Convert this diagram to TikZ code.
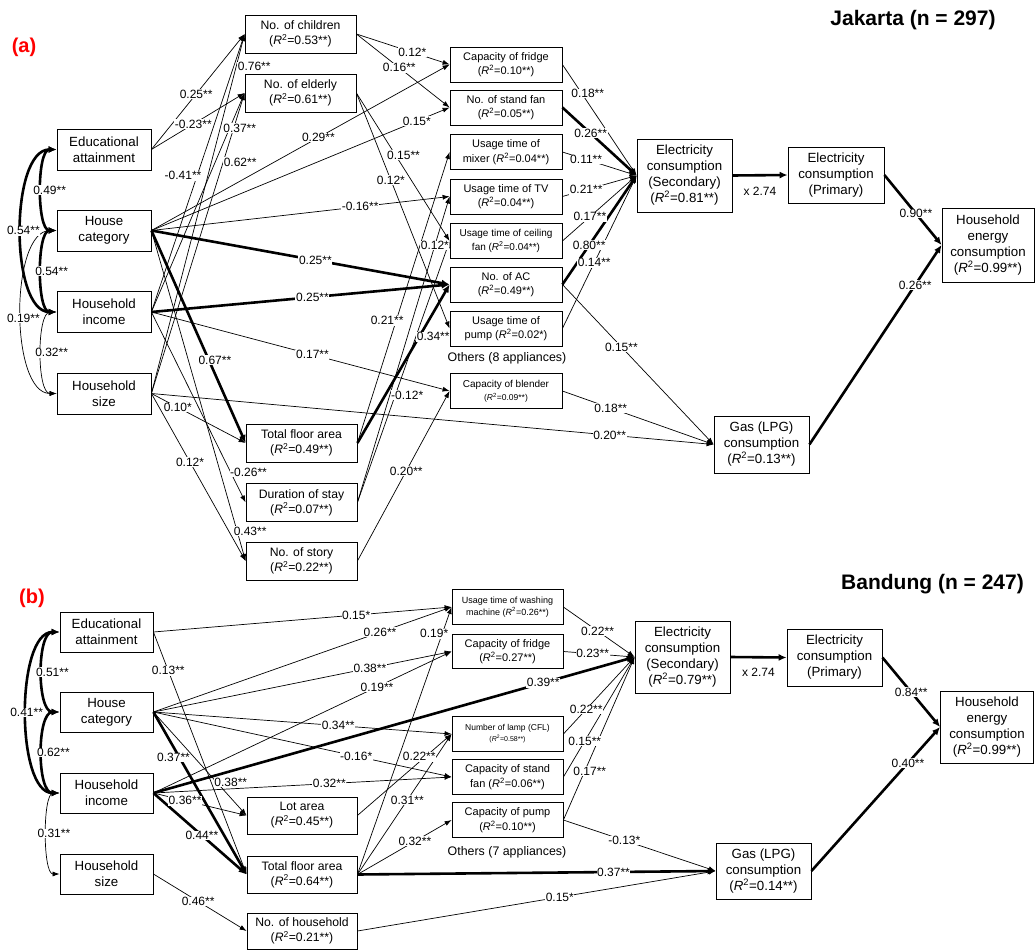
\documentclass[tikz,border=0pt]{standalone}
\usepackage{fontspec}
\setmainfont{Liberation Sans}
\usetikzlibrary{arrows.meta}
\pgfdeclarelayer{lines}
\pgfsetlayers{lines,main}
\newcommand{\Rsq}{\textit{R}\textsuperscript{2}}
% #1 style, #2 source, #3 target, #4 label options, #5 label text
\newcommand{\myedge}[5][tn]{%
  \begin{pgfonlayer}{lines}\draw[#1] (#2.east) -- (#3.west);\end{pgfonlayer}%
  \path (#2.east) -- node[lbl,#4]{#5} (#3.west);}
% #1 style, #2 a, #3 b, #4 distance, #5 label options, #6 text
\newcommand{\mycorr}[6][ctn]{%
  \begin{pgfonlayer}{lines}\draw[#1] (#2.west) to[out=180,in=180,distance=#4] (#3.west);\end{pgfonlayer}%
  \path (#2.west) to[out=180,in=180,distance=#4] node[lbl,pos=.5,#5]{#6} (#3.west);}
\begin{document}
\begin{tikzpicture}[x=1pt,y=-1pt,
  tn/.style={line width=0.7pt,-{Latex[length=7pt,width=5pt]}},
  tk/.style={line width=2.6pt,-{Latex[length=8pt,width=7pt]}},
  ctn/.style={line width=0.7pt,{Latex[length=7pt,width=5pt]}-{Latex[length=7pt,width=5pt]}},
  ctk/.style={line width=2.6pt,{Latex[length=8pt,width=7pt]}-{Latex[length=8pt,width=7pt]}},
  lbl/.style={fill=white,inner sep=0.6pt,font=\fontsize{12}{13}\selectfont},
  bx/.style={draw,line width=0.8pt,align=center,inner sep=1pt},
  lbox/.style={bx,minimum width=94pt,minimum height=41pt,font=\fontsize{13.3}{15.7}\selectfont},
  cbox/.style={bx,minimum width=111pt,minimum height=38pt,font=\fontsize{12.2}{15}\selectfont},
  mbox/.style={bx,minimum width=112pt,minimum height=35pt,font=\fontsize{11}{14.5}\selectfont},
  rbox/.style={bx,minimum width=95pt,font=\fontsize{13.3}{16}\selectfont},
  oth/.style={font=\fontsize{12.4}{14}\selectfont},
  ttl/.style={font=\bfseries\fontsize{21}{24}\selectfont},
  pan/.style={text=red,font=\bfseries\fontsize{20}{24}\selectfont}
]
\useasboundingbox (0,0) rectangle (1036,950);

%%%%%%%%%%%%%%%% (a) Jakarta
\node[pan] (pA) at (24,47) {(a)};
\node[ttl] (tA) at (913,20) {Jakarta (n = 297)};

\node[lbox] (aEA) at (104,149.5) {Educational\\attainment};
\node[lbox] (aHC) at (104,230.5) {House\\category};
\node[lbox] (aHI) at (104,312) {Household\\income};
\node[lbox] (aHS) at (104,393.5) {Household\\size};

\node[cbox] (aCh) at (300.5,34) {No. of children\\(\Rsq=0.53**)};
\node[cbox] (aEl) at (300.5,93) {No. of elderly\\(\Rsq=0.61**)};
\node[cbox] (aTFA) at (301.5,443) {Total floor area\\(\Rsq=0.49**)};
\node[cbox] (aDur) at (301.5,502.5) {Duration of stay\\(\Rsq=0.07**)};
\node[cbox] (aSt) at (301.5,561) {No. of story\\(\Rsq=0.22**)};

\node[mbox] (aFr) at (506,64.5) {Capacity of fridge\\(\Rsq=0.10**)};
\node[mbox] (aSF) at (506,107.5) {No. of stand fan\\(\Rsq=0.05**)};
\node[mbox] (aMx) at (506,152) {Usage time of\\mixer (\Rsq=0.04**)};
\node[mbox] (aTV) at (506,196.5) {Usage time of TV\\(\Rsq=0.04**)};
\node[mbox,font=\fontsize{10}{13.5}\selectfont] (aCF) at (506,241) {Usage time of ceiling\\fan (\Rsq=0.04**)};
\node[mbox] (aAC) at (506,284.5) {No. of AC\\(\Rsq=0.49**)};
\node[mbox] (aPu) at (506,328.5) {Usage time of\\pump (\Rsq=0.02*)};
\node[oth] (aOth) at (507,358) {Others (8 appliances)};
\node[mbox,font=\fontsize{10}{13}\selectfont] (aBl) at (506,391) {Capacity of blender\\{\fontsize{8.5}{10}\selectfont(\Rsq=0.09**)}};

\node[rbox,minimum height=73pt] (aES) at (684.5,175.5) {Electricity\\consumption\\(Secondary)\\(\Rsq=0.81**)};
\node[rbox,minimum width=96pt,minimum height=56pt] (aEP) at (836,175) {Electricity\\consumption\\(Primary)};
\node[rbox,minimum width=92pt,minimum height=74pt] (aHE) at (988,245) {Household\\energy\\consumption\\(\Rsq=0.99**)};
\node[rbox,minimum height=57pt] (aGas) at (761.5,444.5) {Gas (LPG)\\consumption\\(\Rsq=0.13**)};

\mycorr[ctk]{aEA}{aHC}{20pt}{xshift=8}{0.49**}
\mycorr[ctk]{aHC}{aHI}{20pt}{xshift=10}{0.54**}
\mycorr[ctk]{aEA}{aHI}{47pt}{xshift=2}{0.54**}
\mycorr[ctn]{aHC}{aHS}{47pt}{xshift=2,yshift=-6}{0.19**}
\mycorr[ctn]{aHI}{aHS}{20pt}{xshift=10}{0.32**}

\myedge{aEA}{aCh}{pos=.48}{0.25**}
\myedge{aEA}{aEl}{pos=.45}{-0.23**}
\myedge{aHS}{aCh}{pos=.91,xshift=18}{0.76**}
\myedge{aHI}{aCh}{pos=.49,xshift=-14}{-0.41**}
\myedge{aHI}{aEl}{pos=.84,xshift=10}{0.37**}
\myedge{aHS}{aEl}{pos=.77,xshift=17}{0.62**}
\myedge{aHC}{aFr}{pos=.56}{0.29**}
\myedge{aHC}{aSF}{pos=.89}{0.15*}
\myedge{aHC}{aTV}{pos=.70}{-0.16**}
\myedge[tk]{aHC}{aAC}{pos=.55}{0.25**}
\myedge[tk]{aHC}{aTFA}{pos=.61,xshift=6}{0.67**}
\myedge{aHC}{aSt}{pos=.91,xshift=13}{0.43**}
\myedge{aHI}{aDur}{pos=.84,xshift=18}{-0.26**}
\myedge[tk]{aHI}{aAC}{pos=.54}{0.25**}
\myedge{aHI}{aBl}{pos=.54}{0.17**}
\myedge{aHS}{aTFA}{pos=.28}{0.10*}
\myedge{aHS}{aSt}{pos=.41}{0.12*}
\myedge{aHS}{aGas}{pos=.815}{0.20**}
\myedge{aCh}{aFr}{pos=.6}{0.12*}
\myedge{aCh}{aSF}{pos=.46}{0.16**}
\myedge{aEl}{aCF}{pos=.42,xshift=8}{0.15**}
\myedge{aEl}{aPu}{pos=.37}{0.12*}
\myedge[tk]{aTFA}{aAC}{pos=.67,xshift=14}{0.34**}
\myedge{aTFA}{aMx}{pos=.42,xshift=-9}{0.21**}
\myedge{aDur}{aTV}{pos=.84}{0.12*}
\myedge{aDur}{aCF}{pos=.41,xshift=12}{-0.12*}
\myedge{aSt}{aBl}{pos=.53}{0.20**}
\myedge{aFr}{aES}{pos=.26,xshift=6}{0.18**}
\myedge[tk]{aSF}{aES}{pos=.38}{0.26**}
\myedge{aMx}{aES}{pos=.32}{0.11**}
\myedge{aTV}{aES}{pos=.32}{0.21**}
\myedge{aCF}{aES}{pos=.37}{0.17**}
\myedge[tk]{aAC}{aES}{pos=.36}{0.80**}
\myedge{aPu}{aES}{pos=.43}{0.14**}
\myedge{aAC}{aGas}{pos=.39}{0.15**}
\myedge{aBl}{aGas}{pos=.32}{0.18**}
\myedge[tk]{aES}{aEP}{below=11pt}{x 2.74}
\myedge[tk]{aEP}{aHE}{pos=.55}{0.90**}
\myedge[tk]{aGas}{aHE}{pos=.8}{0.26**}

%%%%%%%%%%%%%%%% (b) Bandung
\node[pan] (pB) at (32,598) {(b)};
\node[ttl] (tB) at (932.5,584) {Bandung (n = 247)};

\node[lbox,minimum width=93pt,minimum height=40pt] (bEA) at (106.5,632) {Educational\\attainment};
\node[lbox,minimum width=93pt,minimum height=40pt] (bHC) at (106.5,712) {House\\category};
\node[lbox,minimum width=93pt,minimum height=40pt] (bHI) at (106.5,793) {Household\\income};
\node[lbox,minimum width=93pt,minimum height=40pt] (bHS) at (106.5,874) {Household\\size};

\node[cbox,minimum width=110pt,minimum height=37pt] (bLot) at (302,815.5) {Lot area\\(\Rsq=0.45**)};
\node[cbox,minimum width=110pt,minimum height=37pt] (bTFA) at (302,874.5) {Total floor area\\(\Rsq=0.64**)};
\node[cbox,minimum width=110pt,minimum height=36pt] (bNH) at (302,931) {No. of household\\(\Rsq=0.21**)};

\node[mbox,minimum width=111pt,minimum height=34.5pt,font=\fontsize{9}{12}\selectfont] (bWM) at (507.5,607) {Usage time of washing\\machine (\Rsq=0.26**)};
\node[mbox,minimum width=111pt,minimum height=34.5pt] (bFr) at (507.5,651.5) {Capacity of fridge\\(\Rsq=0.27**)};
\node[mbox,minimum width=111pt,minimum height=34.5pt,font=\fontsize{8.5}{11}\selectfont] (bLa) at (507.5,734) {Number of lamp (CFL)\\{\fontsize{7}{9}\selectfont(\Rsq=0.58**)}};
\node[mbox,minimum width=111pt,minimum height=34.5pt] (bSF) at (507.5,777) {Capacity of stand\\fan (\Rsq=0.06**)};
\node[mbox,minimum width=111pt,minimum height=34.5pt] (bPu) at (507.5,820) {Capacity of pump\\(\Rsq=0.10**)};
\node[oth] (bOth) at (507,852) {Others (7 appliances)};

\node[rbox,minimum height=72pt] (bES) at (682.5,657) {Electricity\\consumption\\(Secondary)\\(\Rsq=0.79**)};
\node[rbox,minimum height=57pt] (bEP) at (834.5,657.5) {Electricity\\consumption\\(Primary)};
\node[rbox,minimum width=93pt,minimum height=72pt] (bHE) at (987,727) {Household\\energy\\consumption\\(\Rsq=0.99**)};
\node[rbox,minimum height=56pt] (bGas) at (763.5,871) {Gas (LPG)\\consumption\\(\Rsq=0.14**)};

\mycorr[ctk]{bEA}{bHC}{23pt}{xshift=10}{0.51**}
\mycorr[ctk]{bHC}{bHI}{23pt}{xshift=11}{0.62**}
\mycorr[ctk]{bEA}{bHI}{44pt}{xshift=0}{0.41**}
\mycorr[ctn]{bHI}{bHS}{17pt}{xshift=7}{0.31**}

\myedge{bEA}{bWM}{pos=.68}{0.15*}
\myedge{bEA}{bTFA}{pos=.16}{0.13**}
\myedge{bHC}{bWM}{pos=.76}{0.26**}
\myedge{bHC}{bFr}{pos=.726}{0.38**}
\myedge{bHC}{bLa}{pos=.62}{0.34**}
\myedge{bHC}{bSF}{pos=.68}{-0.16*}
\myedge[tk]{bHC}{bTFA}{pos=.28,xshift=-6}{0.37**}
\myedge{bHC}{bLot}{pos=.68,xshift=14}{0.38**}
\myedge{bHI}{bFr}{pos=.75}{0.19**}
\myedge[tk]{bHI}{bES}{pos=.81}{0.39**}
\myedge{bHI}{bSF}{pos=.59}{0.32**}
\myedge{bHI}{bLot}{pos=.34}{0.36**}
\myedge[tk]{bHI}{bTFA}{pos=.52}{0.44**}
\myedge{bHS}{bNH}{pos=.48}{0.46**}
\myedge{bLot}{bLa}{pos=.72,xshift=-6}{0.22**}
\myedge{bTFA}{bWM}{pos=.9,xshift=-8}{0.19*}
\myedge{bTFA}{bLa}{pos=.53}{0.31**}
\myedge{bTFA}{bPu}{pos=.61}{0.32**}
\myedge[tk]{bTFA}{bGas}{pos=.715}{0.37**}
\myedge{bNH}{bGas}{pos=.565}{0.15*}
\myedge{bWM}{bES}{pos=.48}{0.22**}
\myedge{bFr}{bES}{pos=.41}{0.23**}
\myedge{bLa}{bES}{pos=.32}{0.22**}
\myedge{bSF}{bES}{pos=.3}{0.15**}
\myedge{bPu}{bES}{pos=.3,xshift=5}{0.17**}
\myedge{bPu}{bGas}{pos=.40}{-0.13*}
\myedge[tk]{bES}{bEP}{below=10pt}{x 2.74}
\myedge[tk]{bEP}{bHE}{pos=.5}{0.84**}
\myedge[tk]{bGas}{bHE}{pos=.75}{0.40**}
\end{tikzpicture}
\end{document}
